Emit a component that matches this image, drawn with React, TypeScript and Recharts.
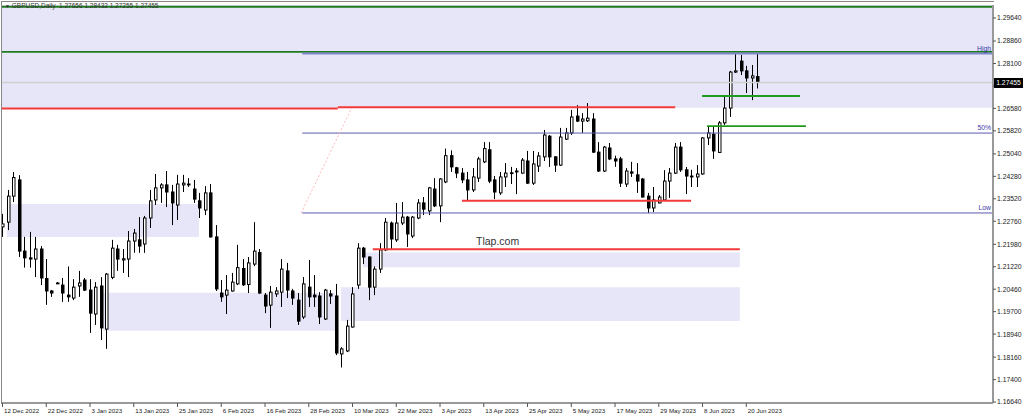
import React from "react";
import { ComposedChart, Bar, XAxis, YAxis, ReferenceArea, ReferenceLine } from "recharts";

// daily GBPUSD candles, one entry per bar (12 Dec 2022 .. 22 Jun 2023)
const opens = [
  1.2257, 1.2273, 1.2361, 1.2416, 1.2175, 1.2152, 1.2148, 1.2182, 1.2082, 1.2040,
  1.2065, 1.2060, 1.2026, 1.2016, 1.2057, 1.2077, 1.2043, 1.1962, 1.2057, 1.1911,
  1.2086, 1.2182, 1.2145, 1.2148, 1.2209, 1.2213, 1.2199, 1.2287, 1.2348, 1.2389,
  1.2399, 1.2375, 1.2331, 1.2399, 1.2402, 1.2385, 1.2345, 1.2314, 1.2372, 1.2223,
  1.2033, 1.2026, 1.2040, 1.2064, 1.2116, 1.2062, 1.2131, 1.2170, 1.2026, 1.1992,
  1.2030, 1.2036, 1.2108, 1.2040, 1.2009, 1.1952, 1.2053, 1.2026, 1.2023, 1.1945,
  1.2030, 1.2023, 1.1827, 1.1837, 1.1918, 1.2060, 1.2185, 1.2155, 1.2053, 1.2114,
  1.2179, 1.2270, 1.2213, 1.2270, 1.2290, 1.2226, 1.2287, 1.2338, 1.2311, 1.2385,
  1.2328, 1.2409, 1.2498, 1.2457, 1.2439, 1.2416, 1.2382, 1.2422, 1.2477, 1.2518,
  1.2416, 1.2372, 1.2426, 1.2440, 1.2443, 1.2439, 1.2480, 1.2405, 1.2463, 1.2494,
  1.2564, 1.2494, 1.2466, 1.2554, 1.2575, 1.2632, 1.2615, 1.2616, 1.2622, 1.2510,
  1.2446, 1.2524, 1.2487, 1.2487, 1.2402, 1.2443, 1.2433, 1.2419, 1.2361, 1.2321,
  1.2338, 1.2348, 1.2412, 1.2439, 1.2527, 1.2450, 1.2429, 1.2426, 1.2436, 1.2558,
  1.2571, 1.2509, 1.2609, 1.2659, 1.2781, 1.2818, 1.2785, 1.2761, 1.27656,
];
const highs = [
  1.2301, 1.2382, 1.2443, 1.2432, 1.2223, 1.2240, 1.2223, 1.2192, 1.2148, 1.2043,
  1.2070, 1.2084, 1.2123, 1.2080, 1.2108, 1.2084, 1.2080, 1.2070, 1.2087, 1.2101,
  1.2213, 1.2196, 1.2182, 1.2243, 1.2250, 1.2290, 1.2294, 1.2382, 1.2436, 1.2405,
  1.2446, 1.2399, 1.2433, 1.2433, 1.2422, 1.2416, 1.2372, 1.2395, 1.2402, 1.2263,
  1.2077, 1.2094, 1.2101, 1.2196, 1.2148, 1.2155, 1.2273, 1.2182, 1.2033, 1.2057,
  1.2053, 1.2148, 1.2135, 1.2047, 1.2033, 1.2087, 1.2145, 1.2094, 1.2036, 1.2047,
  1.2043, 1.2064, 1.1850, 1.1942, 1.2053, 1.2202, 1.2189, 1.2157, 1.2123, 1.2202,
  1.2287, 1.2275, 1.2338, 1.2341, 1.2294, 1.2294, 1.2351, 1.2358, 1.2392, 1.2422,
  1.2422, 1.2522, 1.2516, 1.2460, 1.2456, 1.2443, 1.2456, 1.2494, 1.2544, 1.2544,
  1.2429, 1.2443, 1.2473, 1.2460, 1.2456, 1.2490, 1.2514, 1.2514, 1.2510, 1.2585,
  1.2568, 1.2496, 1.2592, 1.2592, 1.2653, 1.2669, 1.2642, 1.2676, 1.2642, 1.2544,
  1.2531, 1.2541, 1.2498, 1.2494, 1.2456, 1.2477, 1.2473, 1.2422, 1.2372, 1.2392,
  1.2365, 1.2449, 1.2456, 1.2541, 1.2544, 1.2460, 1.2450, 1.2466, 1.2561, 1.2595,
  1.2595, 1.2615, 1.2700, 1.2785, 1.2846, 1.2839, 1.2802, 1.2805, 1.28432,
];
const lows = [
  1.2223, 1.2246, 1.2341, 1.2155, 1.2119, 1.2119, 1.2087, 1.2060, 1.1993, 1.2020,
  1.2063, 1.2003, 1.2003, 1.2009, 1.2020, 1.2040, 1.1898, 1.1925, 1.1874, 1.1844,
  1.2080, 1.2108, 1.2101, 1.2087, 1.2169, 1.2169, 1.2169, 1.2253, 1.2331, 1.2338,
  1.2324, 1.2263, 1.2280, 1.2375, 1.2392, 1.2338, 1.2287, 1.2297, 1.2221, 1.2040,
  1.2003, 1.1962, 1.2038, 1.2060, 1.2057, 1.2033, 1.2124, 1.2031, 1.1965, 1.1915,
  1.2020, 1.1986, 1.2016, 1.1993, 1.1925, 1.1945, 1.1986, 1.1986, 1.1928, 1.1942,
  1.1996, 1.1823, 1.1781, 1.1833, 1.1916, 1.2047, 1.2131, 1.2009, 1.2026, 1.2101,
  1.2175, 1.2179, 1.2206, 1.2263, 1.2189, 1.2219, 1.2283, 1.2297, 1.2297, 1.2324,
  1.2273, 1.2405, 1.2443, 1.2422, 1.2405, 1.2345, 1.2375, 1.2409, 1.2473, 1.2405,
  1.2351, 1.2365, 1.2392, 1.2402, 1.2368, 1.2437, 1.2402, 1.2399, 1.2443, 1.2480,
  1.2460, 1.2443, 1.2463, 1.2551, 1.2568, 1.2612, 1.2575, 1.2612, 1.2507, 1.2443,
  1.2443, 1.2483, 1.2460, 1.2392, 1.2392, 1.2426, 1.2372, 1.2356, 1.2304, 1.2307,
  1.2337, 1.2345, 1.2355, 1.2436, 1.2443, 1.2368, 1.2392, 1.2392, 1.2433, 1.2534,
  1.2487, 1.2507, 1.2602, 1.2629, 1.2778, 1.2771, 1.2710, 1.2686, 1.27255,
];
const closes = [
  1.2267, 1.2361, 1.2424, 1.2175, 1.2152, 1.2148, 1.2182, 1.2084, 1.2040, 1.2033,
  1.2067, 1.2033, 1.2020, 1.2053, 1.2067, 1.2043, 1.1965, 1.2053, 1.1915, 1.2097,
  1.2185, 1.2148, 1.2149, 1.2209, 1.2236, 1.2192, 1.2287, 1.2345, 1.2389, 1.2399,
  1.2375, 1.2338, 1.2402, 1.2405, 1.2399, 1.2351, 1.2321, 1.2372, 1.2223, 1.2047,
  1.2020, 1.2043, 1.2070, 1.2119, 1.2061, 1.2135, 1.2175, 1.2033, 1.1989, 1.2036,
  1.2040, 1.2114, 1.2043, 1.2016, 1.1938, 1.2064, 1.2020, 1.2020, 1.1952, 1.2043,
  1.2023, 1.1830, 1.1844, 1.1921, 1.2030, 1.2185, 1.2155, 1.2053, 1.2114, 1.2179,
  1.2273, 1.2216, 1.2270, 1.2290, 1.2233, 1.2290, 1.2338, 1.2317, 1.2389, 1.2328,
  1.2419, 1.2498, 1.2460, 1.2439, 1.2416, 1.2382, 1.2426, 1.2487, 1.2522, 1.2412,
  1.2375, 1.2426, 1.2439, 1.2438, 1.2446, 1.2483, 1.2405, 1.2470, 1.2497, 1.2568,
  1.2494, 1.2466, 1.2561, 1.2575, 1.2629, 1.2615, 1.2622, 1.2625, 1.2510, 1.2446,
  1.2527, 1.2487, 1.2480, 1.2405, 1.2446, 1.2439, 1.2412, 1.2358, 1.2321, 1.2348,
  1.2358, 1.2412, 1.2439, 1.2527, 1.2450, 1.2429, 1.2426, 1.2436, 1.2558, 1.2575,
  1.2514, 1.2609, 1.2659, 1.2781, 1.2785, 1.2785, 1.2761, 1.2768, 1.27455,
];

const dateLabels = [
  "12 Dec 2022", "22 Dec 2022", "3 Jan 2023", "13 Jan 2023", "25 Jan 2023", "6 Feb 2023",
  "16 Feb 2023", "28 Feb 2023", "10 Mar 2023", "22 Mar 2023", "3 Apr 2023", "13 Apr 2023",
  "25 Apr 2023", "5 May 2023", "17 May 2023", "29 May 2023", "8 Jun 2023", "20 Jun 2023",
];
const dateTicks = dateLabels.map((_, k) => k * 8);

const priceTicks = [
  1.2964, 1.2886, 1.281, 1.2734, 1.2658, 1.2582, 1.2504, 1.2428, 1.2352,
  1.2276, 1.2198, 1.2122, 1.2046, 1.197, 1.1894, 1.1816, 1.174, 1.1664,
];
// this tick sits under the bid price box
const hiddenTick = 1.2734;

const lastPrice = 1.27455;
const xMax = 181.2;
const yMin = 1.16608;
const yMax = 1.3008;

// shaded zones: [x1, x2, y1, y2] in bar index / price
const zones = [
  [0, xMax, 1.266, yMax],
  [0.9, 36, 1.2223, 1.2334],
  [18.5, 60.9, 1.1905, 1.2034],
  [62, 134.9, 1.1938, 1.2053],
  [66, 134.9, 1.212, 1.217],
];

// full width levels
const greenLevels = [1.3002, 1.2849];
// segments: [x1, x2, price]
const redSegments = [
  [0, 61.4, 1.2658],
  [61.4, 123.1, 1.2662],
  [84.1, 126, 1.2345],
  [67.8, 134.9, 1.2181],
];
const greenSegments = [
  [128, 145.9, 1.27],
  [128.9, 147, 1.2598],
];
const fibStart = 54.9;
const fibLevels = [
  { name: "High", v: 1.2844 },
  { name: "50%", v: 1.25745 },
  { name: "Low", v: 1.2304 },
];

const data = opens.map((o, i) => ({ i, o, h: highs[i], l: lows[i], c: closes[i] }));

const font = "'Liberation Sans', Arial, sans-serif";

function Candle(props: any) {
  const { x, y, width, height, payload } = props;
  if (!payload) return null;
  const { o, h, l, c } = payload;
  const top = Math.min(y, y + height);
  const hh = Math.abs(height);
  const k = h - l > 0 ? hh / (h - l) : 0;
  const c0 = Math.round(x + width / 2);
  const bt = top + (h - Math.max(o, c)) * k;
  const bb = top + (h - Math.min(o, c)) * k;
  const up = c >= o;
  return (
    <g>
      <line x1={c0 + 0.5} x2={c0 + 0.5} y1={top} y2={top + hh} stroke="#000" strokeWidth={1} />
      <rect
        x={c0 - 0.5}
        y={bt}
        width={2.5}
        height={Math.max(bb - bt, 0.8)}
        fill={up ? "#fff" : "#000"}
        stroke="#000"
        strokeWidth={1}
      />
    </g>
  );
}

function DateTick(props: any) {
  const { x, y, payload } = props;
  const k = dateTicks.indexOf(payload.value);
  return (
    <g>
      <line x1={x + 0.5} x2={x + 0.5} y1={y - 1} y2={y + 3} stroke="#555" />
      <text x={x + 2} y={y + 9} fontSize={6.2} fontFamily={font} fill="#222">
        {dateLabels[k]}
      </text>
    </g>
  );
}

export default function App() {
  return (
    <div style={{ position: "absolute", left: 0, top: 0, width: 1024, height: 418, background: "#fff" }}>
      <ComposedChart
        width={1024}
        height={418}
        data={data}
        margin={{ top: 5, right: 0, bottom: 0, left: 2 }}
      >
        <XAxis
          dataKey="i"
          type="number"
          domain={[0, xMax]}
          ticks={dateTicks}
          interval={0}
          height={15}
          tickLine={false}
          tickSize={0}
          tickMargin={1}
          axisLine={{ stroke: "#999", strokeWidth: 2 }}
          tick={<DateTick />}
          allowDataOverflow
        />
        <YAxis
          orientation="right"
          width={31}
          domain={[yMin, yMax]}
          ticks={priceTicks}
          interval={0}
          allowDataOverflow
          tickSize={3}
          tickMargin={1}
          tickLine={{ stroke: "#555" }}
          axisLine={{ stroke: "#999", strokeWidth: 2 }}
          tick={{ fontSize: 6.8, fill: "#222", fontFamily: font }}
          tickFormatter={(v: number) => (v === hiddenTick ? "" : v.toFixed(5))}
        />
        {zones.map((z, k) => (
          <ReferenceArea
            key={"z" + k}
            x1={z[0]}
            x2={z[1]}
            y1={z[2]}
            y2={z[3]}
            fill="#e6e6f8"
            fillOpacity={1}
            stroke="none"
            ifOverflow="visible"
          />
        ))}
        <ReferenceLine y={lastPrice} stroke="#cfcfcf" strokeWidth={1.5} />
        {greenLevels.map((v, k) => (
          <ReferenceLine key={"g" + k} y={v} stroke="#1f7a1f" strokeWidth={1.8} />
        ))}
        {fibLevels.map((f) => (
          <ReferenceLine
            key={f.name}
            segment={[{ x: fibStart, y: f.v }, { x: xMax, y: f.v }]}
            stroke={f.name === "High" ? "#7f86c8" : "#5a5ab0"}
            strokeWidth={f.name === "High" ? 2 : 1}
          />
        ))}
        <ReferenceLine
          segment={[{ x: 54.7, y: 1.2304 }, { x: 64, y: 1.2662 }]}
          stroke="#ffb8b8"
          strokeDasharray="2 2"
        />
        {redSegments.map((s, k) => (
          <ReferenceLine
            key={"r" + k}
            segment={[{ x: s[0], y: s[2] }, { x: s[1], y: s[2] }]}
            stroke="#f23a3a"
            strokeWidth={2}
          />
        ))}
        {greenSegments.map((s, k) => (
          <ReferenceLine
            key={"gs" + k}
            segment={[{ x: s[0], y: s[2] }, { x: s[1], y: s[2] }]}
            stroke="#1f9a1f"
            strokeWidth={1.8}
          />
        ))}
        <Bar
          dataKey={(d: any) => [d.l, d.h]}
          barSize={4}
          shape={<Candle />}
          isAnimationActive={false}
        />
      </ComposedChart>

      {/* frame, left and top */}
      <div
        style={{
          position: "absolute", left: 1, top: 1, width: 992, height: 402,
          borderLeft: "1px solid #888", borderTop: "1px solid #888", pointerEvents: "none",
        }}
      />
      <div style={{ position: "absolute", left: 5, top: 2, fontSize: 6.5, fontFamily: font, color: "#333", whiteSpace: "nowrap" }}>
        <span style={{ fontSize: 5 }}>▼</span> GBPUSD,Daily&nbsp; 1.27656 1.28432 1.27255 1.27455
      </div>
      {fibLevels.map((f, k) => (
        <div
          key={"fl" + f.name}
          style={{
            position: "absolute", right: 1024 - 991, top: [45, 124, 204][k], fontSize: 6.8,
            fontFamily: font, color: "#3a3aa8", whiteSpace: "nowrap",
          }}
        >
          {f.name}
        </div>
      ))}
      <div style={{ position: "absolute", left: 476, top: 235, fontSize: 10.5, fontFamily: font, color: "#333" }}>
        Tlap.com
      </div>
      <div
        style={{
          position: "absolute", left: 994, top: 78, width: 29, height: 10, background: "#000",
          color: "#fff", fontSize: 6.8, fontFamily: font, lineHeight: "10px", textAlign: "center",
        }}
      >
        1.27455
      </div>
    </div>
  );
}
